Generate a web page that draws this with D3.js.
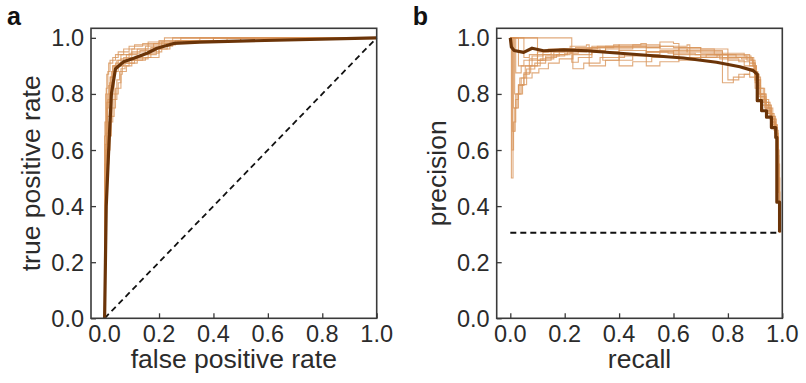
<!DOCTYPE html>
<html>
  <head>
    <style>
      body { margin: 0; background: #ffffff; }
      text { font-family: "Liberation Sans", Arial, sans-serif; fill: #2b2b2b; }
    </style>
  </head>
  <body>
    <svg id="workspace"></svg>
  </body>
</html>

<script src="https://d3js.org/d3.v7.min.js"></script>

<script>
  const WIDTH = 806;
  const HEIGHT = 383;

  // tick labels shared by both panels
  const TICKS = [0, 0.2, 0.4, 0.6, 0.8, 1.0];

  // panel a - ROC, mean curve (fpr, tpr)
  const rocMean = [[0,0],[0.003,0.2],[0.006,0.4],[0.015,0.6],[0.025,0.8],[0.04,0.89],[0.07,0.915],
    [0.107,0.927],[0.156,0.945],[0.193,0.963],[0.254,0.98],[0.35,0.985],[1,1]];

  // panel a - individual ROC curves
  const rocCurves = [
    [[0,0],[0,0.35],[0.005,0.55],[0.01,0.7],[0.02,0.8],[0.03,0.86],[0.05,0.9],[0.08,0.92],[0.12,0.94],[0.18,0.96],[0.24,0.98],[0.3,0.985],[0.6,0.99],[1,1]],
    [[0,0],[0.003,0.4],[0.008,0.6],[0.015,0.75],[0.025,0.83],[0.04,0.88],[0.07,0.91],[0.1,0.93],[0.15,0.95],[0.2,0.97],[0.27,0.985],[0.5,0.99],[1,1]],
    [[0,0],[0.005,0.3],[0.012,0.5],[0.025,0.65],[0.04,0.75],[0.06,0.82],[0.065,0.87],[0.09,0.9],[0.14,0.92],[0.19,0.94],[0.23,0.96],[0.26,0.975],[0.28,0.985],[1,1]],
    [[0,0],[0,0.45],[0.004,0.65],[0.008,0.8],[0.015,0.87],[0.03,0.91],[0.05,0.93],[0.09,0.95],[0.14,0.97],[0.2,0.98],[0.35,0.99],[1,1]],
    [[0,0],[0.002,0.42],[0.01,0.62],[0.02,0.72],[0.035,0.8],[0.05,0.88],[0.07,0.9],[0.12,0.91],[0.17,0.93],[0.21,0.95],[0.25,0.97],[0.29,0.98],[0.5,0.99],[1,1]],
    [[0,0],[0.004,0.38],[0.008,0.58],[0.018,0.77],[0.03,0.84],[0.045,0.9],[0.06,0.92],[0.1,0.94],[0.16,0.96],[0.22,0.975],[0.27,0.98],[0.4,0.99],[1,1]],
    [[0,0],[0.006,0.33],[0.015,0.55],[0.03,0.7],[0.045,0.78],[0.055,0.85],[0.08,0.88],[0.1,0.9],[0.15,0.92],[0.2,0.93],[0.24,0.96],[0.27,0.98],[0.4,0.985],[1,1]],
    [[0,0],[0.001,0.5],[0.006,0.7],[0.012,0.82],[0.02,0.88],[0.04,0.92],[0.07,0.94],[0.11,0.96],[0.16,0.975],[0.22,0.985],[1,1]],
    [[0,0],[0.008,0.42],[0.02,0.6],[0.035,0.72],[0.05,0.8],[0.06,0.84],[0.075,0.89],[0.11,0.91],[0.16,0.925],[0.2,0.945],[0.23,0.97],[0.26,0.98],[0.45,0.99],[1,1]],
    [[0,0],[0.002,0.3],[0.006,0.5],[0.012,0.66],[0.022,0.78],[0.035,0.86],[0.06,0.9],[0.09,0.925],[0.13,0.945],[0.17,0.955],[0.21,0.965],[0.25,0.985],[1,1]]
  ];

  // chance line for ROC
  const rocChance = [[0,0],[1,1]];

  // panel b - PR, mean curve (recall, precision)
  const prMean = [[0,1],[0.004,0.967],[0.014,0.955],[0.049,0.948],[0.08,0.963],[0.122,0.954],[0.196,0.957],
    [0.281,0.954],[0.39,0.946],[0.514,0.937],[0.636,0.928],[0.758,0.913],[0.844,0.897],[0.893,0.883],
    [0.908,0.87],[0.908,0.776],[0.924,0.776],[0.924,0.74],[0.942,0.74],[0.942,0.717],[0.96,0.717],
    [0.96,0.68],[0.976,0.68],[0.976,0.645],[0.98,0.645],[0.98,0.414],[0.99,0.414],[0.99,0.307]];

  // panel b - individual PR curves
  const prCurves = [
    [[0,1],[0.004,0.5],[0.01,0.667],[0.018,0.75],[0.03,0.8],[0.045,0.833],[0.06,0.857],[0.08,0.875],[0.105,0.89],[0.14,0.91],[0.18,0.925],[0.23,0.94],[0.3,0.95],[0.4,0.955],[0.5,0.95],[0.6,0.94],[0.7,0.93],[0.8,0.92],[0.86,0.9],[0.9,0.85],[0.92,0.78],[0.94,0.74],[0.96,0.7],[0.975,0.66],[0.985,0.45],[0.99,0.305]],
    [[0,1],[0.226,0.913],[0.25,0.93],[0.3,0.95],[0.35,0.965],[0.45,0.97],[0.55,0.96],[0.65,0.95],[0.75,0.94],[0.83,0.93],[0.88,0.91],[0.9,0.86],[0.92,0.8],[0.94,0.76],[0.955,0.72],[0.97,0.68],[0.978,0.6],[0.985,0.45],[0.99,0.305]],
    [[0,1],[0.008,0.667],[0.014,0.75],[0.025,0.8],[0.04,0.857],[0.06,0.889],[0.09,0.91],[0.13,0.93],[0.17,0.94],[0.21,0.95],[0.28,0.96],[0.33,0.955],[0.34,0.92],[0.4,0.935],[0.5,0.95],[0.6,0.955],[0.7,0.945],[0.8,0.93],[0.87,0.92],[0.895,0.88],[0.91,0.82],[0.93,0.77],[0.95,0.73],[0.965,0.69],[0.978,0.64],[0.985,0.5],[0.99,0.305]],
    [[0,1],[0.05,0.93],[0.07,0.94],[0.1,0.95],[0.14,0.96],[0.22,0.97],[0.28,0.975],[0.29,0.9],[0.35,0.92],[0.45,0.94],[0.55,0.955],[0.62,0.965],[0.7,0.955],[0.78,0.94],[0.8,0.85],[0.84,0.87],[0.88,0.89],[0.9,0.84],[0.915,0.79],[0.935,0.75],[0.955,0.71],[0.97,0.67],[0.98,0.63],[0.985,0.45],[0.99,0.305]],
    [[0,1],[0.012,0.75],[0.02,0.8],[0.035,0.857],[0.055,0.9],[0.08,0.92],[0.12,0.94],[0.16,0.95],[0.2,0.955],[0.25,0.96],[0.32,0.97],[0.4,0.975],[0.48,0.98],[0.5,0.9],[0.55,0.915],[0.62,0.93],[0.7,0.935],[0.78,0.93],[0.85,0.925],[0.89,0.9],[0.905,0.85],[0.92,0.8],[0.94,0.76],[0.96,0.72],[0.975,0.69],[0.982,0.6],[0.988,0.4],[0.99,0.305]],
    [[0,1],[0.03,0.9],[0.05,0.92],[0.08,0.935],[0.12,0.95],[0.18,0.96],[0.24,0.965],[0.3,0.97],[0.38,0.975],[0.4,0.9],[0.45,0.915],[0.52,0.93],[0.6,0.95],[0.65,0.96],[0.7,0.96],[0.8,0.945],[0.86,0.935],[0.885,0.92],[0.9,0.87],[0.915,0.82],[0.935,0.78],[0.95,0.75],[0.965,0.71],[0.978,0.67],[0.985,0.55],[0.99,0.305]],
    [[0,1],[0.016,0.8],[0.03,0.833],[0.05,0.875],[0.075,0.9],[0.1,0.92],[0.15,0.935],[0.2,0.945],[0.25,0.955],[0.35,0.96],[0.45,0.965],[0.55,0.97],[0.65,0.975],[0.66,0.93],[0.72,0.94],[0.8,0.935],[0.87,0.93],[0.89,0.91],[0.9,0.86],[0.91,0.8],[0.925,0.76],[0.945,0.73],[0.96,0.7],[0.975,0.66],[0.983,0.5],[0.99,0.305]],
    [[0,1],[0.02,0.875],[0.04,0.9],[0.07,0.925],[0.1,0.94],[0.15,0.955],[0.2,0.96],[0.3,0.965],[0.38,0.97],[0.5,0.965],[0.55,0.985],[0.6,0.98],[0.62,0.92],[0.7,0.93],[0.76,0.94],[0.82,0.94],[0.88,0.93],[0.895,0.9],[0.905,0.83],[0.92,0.79],[0.94,0.75],[0.96,0.71],[0.972,0.68],[0.98,0.58],[0.987,0.42],[0.99,0.305]],
    [[0,1],[0.1,0.92],[0.13,0.935],[0.18,0.95],[0.23,0.96],[0.3,0.965],[0.35,0.97],[0.45,0.975],[0.55,0.97],[0.6,0.965],[0.7,0.96],[0.75,0.95],[0.78,0.84],[0.82,0.86],[0.86,0.87],[0.88,0.86],[0.9,0.82],[0.92,0.78],[0.94,0.74],[0.958,0.7],[0.972,0.66],[0.98,0.62],[0.986,0.45],[0.99,0.305]],
    [[0,1],[0.006,0.6],[0.012,0.7],[0.02,0.78],[0.03,0.83],[0.05,0.87],[0.07,0.9],[0.11,0.925],[0.16,0.94],[0.22,0.95],[0.23,0.89],[0.27,0.91],[0.33,0.93],[0.42,0.94],[0.5,0.95],[0.58,0.945],[0.68,0.94],[0.77,0.925],[0.84,0.915],[0.88,0.9],[0.9,0.85],[0.915,0.8],[0.935,0.77],[0.955,0.73],[0.97,0.69],[0.98,0.65],[0.986,0.5],[0.99,0.305]]
  ];

  // positive-class baseline for PR
  const prChance = [[0,0.305],[0.99,0.305]];

  const THIN_COLOR = '#d8955a';
  const MEAN_COLOR = '#6b3408';
  const FRAME_COLOR = '#3a3a3a';

  let svg = d3.select('#workspace')
    .attr('width', WIDTH)
    .attr('height', HEIGHT);

  // Draw one panel, returns the scales
  function drawPanel(left, right, top, bottom, letter, xLabel, yLabel) {
    let x = d3.scaleLinear().domain([-0.05, 1.0]).range([left, right]);
    let y = d3.scaleLinear().domain([0, 1.034]).range([bottom, top]);
    let g = svg.append('g');

    // inward ticks on bottom and left
    let xAxis = d3.axisTop(x).tickValues(TICKS).tickSize(5).tickFormat('');
    let yAxis = d3.axisRight(y).tickValues(TICKS).tickSize(5).tickFormat('');
    g.append('g').attr('transform', 'translate(0,' + bottom + ')').call(xAxis);
    g.append('g').attr('transform', 'translate(' + left + ',0)').call(yAxis);
    g.selectAll('.domain').remove();
    g.selectAll('.tick line').attr('stroke', FRAME_COLOR).attr('stroke-width', 1.3);

    // tick labels
    g.selectAll('.xlab')
      .data(TICKS)
      .enter()
      .append('text')
      .attr('x', d => x(d))
      .attr('y', bottom + 23.5)
      .attr('text-anchor', 'middle')
      .style('font-size', '23.5px')
      .text(d => d3.format('.1f')(d));
    g.selectAll('.ylab')
      .data(TICKS)
      .enter()
      .append('text')
      .attr('x', left - 7)
      .attr('y', d => y(d) + 8.5)
      .attr('text-anchor', 'end')
      .style('font-size', '23.5px')
      .text(d => d3.format('.1f')(d));

    // axis labels
    g.append('text')
      .attr('x', (left + right) / 2)
      .attr('y', bottom + 50)
      .attr('text-anchor', 'middle')
      .style('font-size', '26.5px')
      .text(xLabel);
    g.append('text')
      .attr('transform', 'translate(' + (left - 51) + ',' + ((top + bottom) / 2) + ') rotate(-90)')
      .attr('text-anchor', 'middle')
      .style('font-size', '26.5px')
      .text(yLabel);

    // panel letter
    g.append('text')
      .attr('x', left - 84)
      .attr('y', 25)
      .style('font-size', '25px')
      .style('font-weight', 'bold')
      .style('fill', '#111')
      .text(letter);

    return {x: x, y: y, g: g, left: left, right: right, top: top, bottom: bottom};
  }

  // Draw frame on top of curves
  function drawFrame(p) {
    p.g.append('rect')
      .attr('x', p.left)
      .attr('y', p.top)
      .attr('width', p.right - p.left)
      .attr('height', p.bottom - p.top)
      .attr('fill', 'none')
      .attr('stroke', FRAME_COLOR)
      .attr('stroke-width', 1.6);
  }

  // Add curves to a panel
  function drawCurves(p, curves, mean, chance, thinCurve) {
    let thin = d3.line().x(d => p.x(d[0])).y(d => p.y(d[1])).curve(thinCurve);
    let straight = d3.line().x(d => p.x(d[0])).y(d => p.y(d[1]));

    p.g.selectAll('.thin')
      .data(curves)
      .enter()
      .append('path')
      .attr('d', thin)
      .attr('fill', 'none')
      .attr('stroke', THIN_COLOR)
      .attr('stroke-opacity', 0.8)
      .attr('stroke-width', 1.1);

    p.g.append('path')
      .attr('d', straight(chance))
      .attr('fill', 'none')
      .attr('stroke', '#111')
      .attr('stroke-width', 1.8)
      .attr('stroke-dasharray', '6,4');

    p.g.append('path')
      .attr('d', straight(mean))
      .attr('fill', 'none')
      .attr('stroke', MEAN_COLOR)
      .attr('stroke-width', 3.2)
      .attr('stroke-linejoin', 'round');
  }

  let panelA = drawPanel(91, 376.7, 28.3, 318.3, 'a', 'false positive rate', 'true positive rate');
  drawCurves(panelA, rocCurves, rocMean, rocChance, d3.curveStepBefore);
  drawFrame(panelA);

  let panelB = drawPanel(496.7, 782.3, 28.3, 318.3, 'b', 'recall', 'precision');
  drawCurves(panelB, prCurves, prMean, prChance, d3.curveStepAfter);
  drawFrame(panelB);
</script>
